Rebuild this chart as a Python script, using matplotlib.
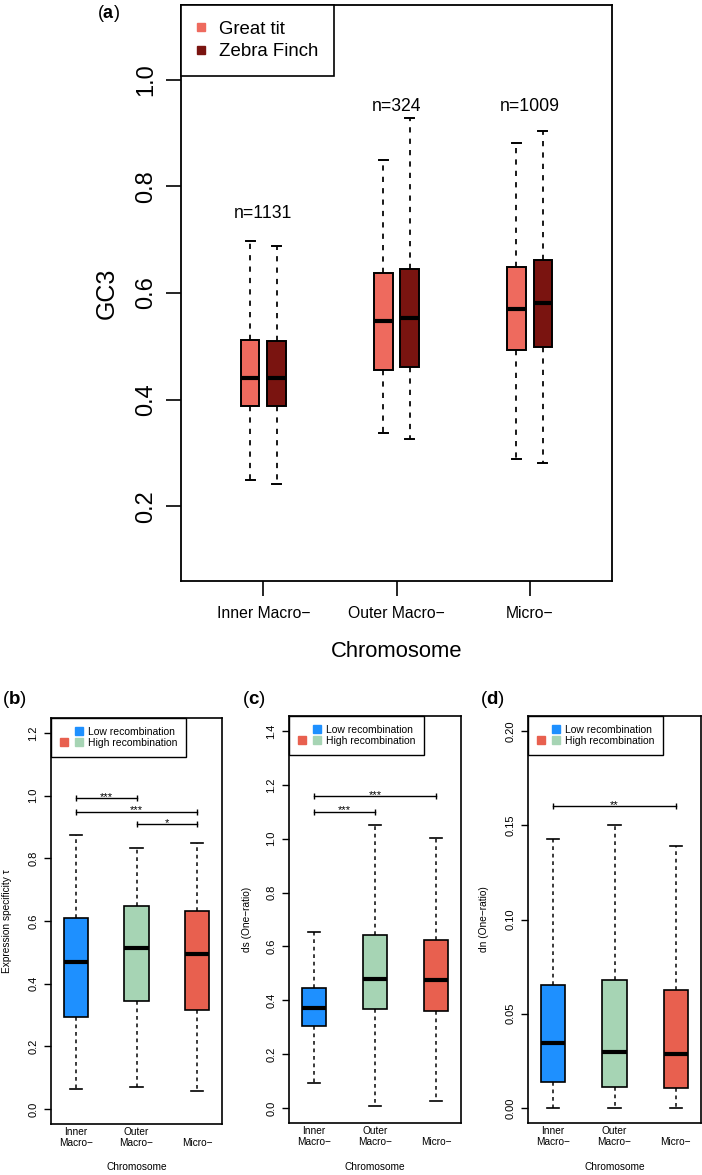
import matplotlib
matplotlib.use("Agg")
import matplotlib.pyplot as plt
from matplotlib.lines import Line2D
from matplotlib.legend_handler import HandlerTuple
from matplotlib.ticker import FormatStrFormatter

plt.rcParams['font.family'] = ['Liberation Sans', 'DejaVu Sans']
plt.rcParams['mathtext.fontset'] = 'custom'
plt.rcParams['mathtext.rm'] = 'Liberation Sans'
plt.rcParams['mathtext.bf'] = 'Liberation Sans:bold'

# ---- panel (a): GC3 per chromosome class ----
a_groups = ['Inner Macro\u2212', 'Outer Macro\u2212', 'Micro\u2212']
a_counts = [1131, 324, 1009]
a_count_y = [0.75, 0.95, 0.95]
gt_lo = [0.250, 0.338, 0.289]
gt_q1 = [0.389, 0.456, 0.493]
gt_med = [0.441, 0.548, 0.570]
gt_q3 = [0.512, 0.637, 0.649]
gt_hi = [0.697, 0.850, 0.882]
zf_lo = [0.241, 0.327, 0.281]
zf_q1 = [0.389, 0.462, 0.499]
zf_med = [0.440, 0.553, 0.582]
zf_q3 = [0.510, 0.645, 0.662]
zf_hi = [0.688, 0.928, 0.904]

# ---- panels (b)-(d) ----
b_groups = ['Inner\nMacro\u2212', 'Outer\nMacro\u2212', '\nMicro\u2212']
tau_lo = [0.064, 0.071, 0.057]
tau_q1 = [0.293, 0.344, 0.316]
tau_med = [0.469, 0.513, 0.495]
tau_q3 = [0.611, 0.648, 0.633]
tau_hi = [0.875, 0.833, 0.850]
tau_sig = [(1, 2, 0.992, '***'), (1, 3, 0.948, '***'), (2, 3, 0.909, '*')]

ds_lo = [0.091, 0.009, 0.024]
ds_q1 = [0.303, 0.369, 0.361]
ds_med = [0.372, 0.480, 0.476]
ds_q3 = [0.444, 0.643, 0.624]
ds_hi = [0.653, 1.051, 1.003]
ds_sig = [(1, 3, 1.158, '***'), (1, 2, 1.100, '***')]

dn_lo = [0.0, 0.0, 0.0]
dn_q1 = [0.0136, 0.0113, 0.0104]
dn_med = [0.0346, 0.0295, 0.0288]
dn_q3 = [0.0651, 0.0677, 0.0624]
dn_hi = [0.1427, 0.150, 0.139]
dn_sig = [(1, 3, 0.160, '**')]

gt_color = '#EE6A5E'
zf_color = '#7A1410'
blue = '#1E90FF'
green = '#A6D4B4'
red = '#E8604F'

W, H = 702, 1175
fig = plt.figure(figsize=(W / 100, H / 100), dpi=100)


def px_axes(left, top, right, bottom):
    return fig.add_axes([left / W, 1 - bottom / H, (right - left) / W, (bottom - top) / H])


def make_stats(lo, q1, med, q3, hi):
    return [dict(whislo=lo[i], q1=q1[i], med=med[i], q3=q3[i], whishi=hi[i], fliers=[])
            for i in range(len(med))]


def draw_boxes(ax, stats, pos, width, colors, lw=1.3, dash=(3, 3), medlw=3.5):
    res = ax.bxp(stats, positions=pos, widths=width, patch_artist=True, showfliers=False,
                 manage_ticks=False, capwidths=[width * 0.5] * len(stats),
                 boxprops=dict(edgecolor='black', linewidth=lw),
                 whiskerprops=dict(linestyle=(0, dash), linewidth=lw * 0.9, color='black'),
                 capprops=dict(linewidth=lw, color='black'),
                 medianprops=dict(color='black', linewidth=medlw, solid_capstyle='butt'))
    for b, c in zip(res['boxes'], colors):
        b.set_facecolor(c)
    return res


# ================= panel (a) =================
ax = px_axes(181, 5, 612, 581)
pos = [1, 2, 3]
draw_boxes(ax, make_stats(gt_lo, gt_q1, gt_med, gt_q3, gt_hi), [p - 0.1 for p in pos], 0.14,
           [gt_color] * 3, lw=1.4, dash=(3, 3.5), medlw=3.0)
draw_boxes(ax, make_stats(zf_lo, zf_q1, zf_med, zf_q3, zf_hi), [p + 0.1 for p in pos], 0.14,
           [zf_color] * 3, lw=1.4, dash=(3, 3.5), medlw=3.0)
for p, n, y in zip(pos, a_counts, a_count_y):
    ax.text(p, y, 'n=%d' % n, ha='center', va='center', fontsize=12.7)
ax.set_xlim(0.38, 3.62)
ax.set_ylim(0.06, 1.14)
ax.set_yticks([0.2, 0.4, 0.6, 0.8, 1.0])
ax.yaxis.set_major_formatter(FormatStrFormatter('%.1f'))
ax.set_xticks(pos)
ax.set_xticklabels(a_groups, fontsize=11.3)
ax.tick_params(axis='y', labelsize=17, length=11, width=1.2, pad=6, labelrotation=90)
ax.tick_params(axis='x', length=11, width=1.2, pad=7)
for lab in ax.get_yticklabels():
    lab.set_va('center')
ax.set_ylabel('GC3', fontsize=18, va='center')
ax.yaxis.set_label_coords(-0.172, 0.5)
ax.set_xlabel('Chromosome', fontsize=15.8, va='center')
ax.xaxis.set_label_coords(0.5, -0.123)
for s in ax.spines.values():
    s.set_linewidth(1.3)
h_gt = Line2D([], [], ls='', marker='s', color=gt_color, markersize=5.5)
h_zf = Line2D([], [], ls='', marker='s', color=zf_color, markersize=5.5)
leg = ax.legend([h_gt, h_zf], ['Great tit', 'Zebra Finch'], loc='upper left', borderaxespad=0,
                fontsize=13.4, fancybox=False, framealpha=1, edgecolor='black',
                handlelength=0.4, handletextpad=0.8, borderpad=0.85, labelspacing=0.3)
leg.get_frame().set_linewidth(1.2)
fig.text(97 / W, 1 - 13 / H, r'($\mathbf{a}$)', fontsize=13, ha='left', va='center')

# ================= panels (b)-(d) =================
bottom_specs = [
    ((51, 718, 222, 1124), make_stats(tau_lo, tau_q1, tau_med, tau_q3, tau_hi), tau_sig,
     (0, 1.2), [0, 0.2, 0.4, 0.6, 0.8, 1.0, 1.2], '%.1f', 'Expression specificity \u03c4', 'b', 2,
     -0.257),
    ((289, 716, 461, 1123), make_stats(ds_lo, ds_q1, ds_med, ds_q3, ds_hi), ds_sig,
     (0, 1.4), [0, 0.2, 0.4, 0.6, 0.8, 1.0, 1.2, 1.4], '%.1f', 'ds (One\u2212ratio)', 'c', 242,
     -0.247),
    ((528, 716, 701, 1123), make_stats(dn_lo, dn_q1, dn_med, dn_q3, dn_hi), dn_sig,
     (0, 0.2), [0, 0.05, 0.10, 0.15, 0.20], '%.2f', 'dn (One\u2212ratio)', 'd', 480,
     -0.254),
]

for rect, stats, sigs, ylim, yticks, fmt, ylabel, letter, lx, ylx in bottom_specs:
    ax = px_axes(*rect)
    draw_boxes(ax, stats, pos, 0.4, [blue, green, red], lw=1.2, dash=(2.5, 2.5), medlw=3.0)
    span = ylim[1] - ylim[0]
    ax.set_ylim(ylim[0] - 0.04 * span, ylim[1] + 0.04 * span)
    ax.set_xlim(0.59, 3.41)
    for x1, x2, y, stars in sigs:
        ax.plot([x1, x2], [y, y], color='black', lw=1.0, marker='|', markersize=5,
                markeredgewidth=1.0)
        ax.annotate(stars, ((x1 + x2) / 2, y), xytext=(0, -2.5), textcoords='offset points',
                    ha='center', va='bottom', fontsize=8)
    ax.set_yticks(yticks)
    ax.yaxis.set_major_formatter(FormatStrFormatter(fmt))
    ax.set_xticks(pos)
    ax.set_xticklabels(b_groups, fontsize=7.3, linespacing=1.15)
    ax.tick_params(axis='y', labelsize=8, length=5, width=1.0, pad=4, labelrotation=90)
    ax.tick_params(axis='x', length=0, pad=2)
    for lab in ax.get_yticklabels():
        lab.set_va('center')
    ax.set_ylabel(ylabel, fontsize=7.3, va='center')
    ax.yaxis.set_label_coords(ylx, 0.5)
    ax.set_xlabel('Chromosome', fontsize=7.3, va='center')
    ax.xaxis.set_label_coords(0.5, -0.107)
    for s in ax.spines.values():
        s.set_linewidth(1.2)
    blank = Line2D([], [], ls='', marker='s', color='none', markersize=6)
    hb = Line2D([], [], ls='', marker='s', color=blue, markersize=6)
    hr = Line2D([], [], ls='', marker='s', color=red, markersize=6)
    hg = Line2D([], [], ls='', marker='s', color=green, markersize=6)
    leg = ax.legend([(blank, hb), (hr, hg)], ['Low recombination', 'High recombination'],
                    handler_map={tuple: HandlerTuple(ndivide=None, pad=0.6)},
                    loc='upper left', borderaxespad=0, fontsize=7.5, fancybox=False,
                    framealpha=1, edgecolor='black', handlelength=2.2, handletextpad=0.5,
                    borderpad=0.85, labelspacing=0.12)
    leg.get_frame().set_linewidth(1.0)
    fig.text(lx / W, 1 - 700 / H, r'($\mathbf{%s}$)' % letter, fontsize=13.5, ha='left', va='center')

fig.savefig('out.png', dpi=100)
